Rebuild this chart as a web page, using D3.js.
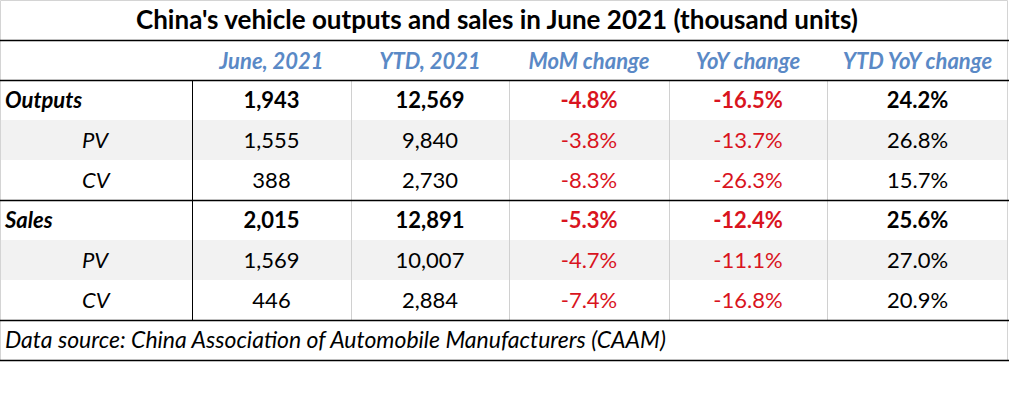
<!DOCTYPE html>
<html>
<head>
<meta charset="utf-8">
<script src="https://cdn.jsdelivr.net/npm/d3@7"></script>
<style>
  body { margin: 0; background: #fff; }
  text { font-family: Lato, "Open Sans", sans-serif; }
</style>
</head>
<body>
<div id="chart"></div>
<script>
(function () {

  // table data
  var title = "China's vehicle outputs and sales in June 2021 (thousand units)"
  var headers = ["", "June, 2021", "YTD, 2021", "MoM change", "YoY change", "YTD YoY change"]
  var rowLabels = ["Outputs", "PV", "CV", "Sales", "PV", "CV"]
  var boldRows = [true, false, false, true, false, false]
  var june = [1943, 1555, 388, 2015, 1569, 446]
  var ytd = [12569, 9840, 2730, 12891, 10007, 2884]
  var mom = [-4.8, -3.8, -8.3, -5.3, -4.7, -7.4]
  var yoy = [-16.5, -13.7, -26.3, -12.4, -11.1, -16.8]
  var ytdYoy = [24.2, 26.8, 15.7, 25.6, 27.0, 20.9]
  var source = "Data source: China Association of Automobile Manufacturers (CAAM)"

  var width = 1009, height = 404

  var svg = d3.select("#chart").append("svg")
    .attr("width", width)
    .attr("height", height)

  // column edges (uneven widths)
  var colEdges = [0, 192, 351, 509, 669, 827, 1008]
  var colX = d3.scaleOrdinal().domain(d3.range(6)).range(colEdges.slice(0, 6))
  var colW = function (i) { return colEdges[i + 1] - colEdges[i] }

  // rows: title, header, 6 data rows, footer
  var yScale = d3.scaleBand().domain(d3.range(9)).range([0, 360])
  var rh = yScale.bandwidth()
  var dataY = function (i) { return yScale(i + 2) }

  var fmt = d3.format(",")
  // plain hyphen for negatives, like the original
  var pct = function (v) { return v.toFixed(1) + "%" }

  // shaded sub rows
  svg.selectAll(".band")
    .data([1, 4])
    .enter().append("rect")
    .attr("class", "band")
    .attr("x", 1)
    .attr("y", function (d) { return dataY(d) })
    .attr("width", 1006)
    .attr("height", rh)
    .attr("fill", "#f2f2f2")

  // light outer border (top, left, right)
  svg.append("path")
    .attr("d", "M0.5,360V0.5H1007.5V360")
    .attr("fill", "none")
    .attr("stroke", "#d4d4d4")

  // gray column dividers
  svg.selectAll(".vline")
    .data([2, 3, 4, 5])
    .enter().append("line")
    .attr("class", "vline")
    .attr("x1", function (d) { return colX(d) + 0.5 })
    .attr("x2", function (d) { return colX(d) + 0.5 })
    .attr("y1", dataY(0))
    .attr("y2", dataY(6))
    .attr("stroke", "#d0d0d0")

  // black divider after label column
  svg.append("line")
    .attr("x1", colX(1) + 0.5).attr("x2", colX(1) + 0.5)
    .attr("y1", dataY(0)).attr("y2", dataY(6))
    .attr("stroke", "#000")

  // black horizontal rules
  svg.selectAll(".hline")
    .data([yScale(1), yScale(2), dataY(3), dataY(6), 360])
    .enter().append("line")
    .attr("class", "hline")
    .attr("x1", 0).attr("x2", width)
    .attr("y1", function (d) { return d + 0.5 })
    .attr("y2", function (d) { return d + 0.5 })
    .attr("stroke", "#000")
    .attr("stroke-width", 1.5)

  // title
  svg.append("text")
    .attr("x", 497)
    .attr("y", yScale(0) + 29)
    .attr("text-anchor", "middle")
    .attr("font-size", 26)
    .attr("font-weight", "bold")
    .attr("fill", "#000")
    .text(title)

  // headers
  svg.selectAll(".header")
    .data(headers)
    .enter().append("text")
    .attr("class", "header")
    .attr("x", function (d, i) { return colX(i) + colW(i) / 2 })
    .attr("y", yScale(1) + 29)
    .attr("text-anchor", "middle")
    .attr("font-size", 22)
    .attr("font-style", "italic")
    .attr("font-weight", "bold")
    .attr("fill", "#5a89c6")
    .text(function (d) { return d })

  // row labels
  svg.selectAll(".rowlabel")
    .data(rowLabels)
    .enter().append("text")
    .attr("class", "rowlabel")
    .attr("x", function (d, i) { return boldRows[i] ? 5 : 82 })
    .attr("y", function (d, i) { return dataY(i) + 28 })
    .attr("font-size", 22)
    .attr("font-style", "italic")
    .attr("font-weight", function (d, i) { return boldRows[i] ? "bold" : "normal" })
    .attr("fill", "#000")
    .text(function (d) { return d })

  // data cells
  var columns = [
    { vals: june, f: fmt, neg: false },
    { vals: ytd, f: fmt, neg: false },
    { vals: mom, f: pct, neg: true },
    { vals: yoy, f: pct, neg: true },
    { vals: ytdYoy, f: pct, neg: false }
  ]
  var cells = []
  columns.forEach(function (c, ci) {
    c.vals.forEach(function (v, ri) {
      cells.push({ col: ci + 1, row: ri, text: c.f(v), red: c.neg && v < 0 })
    })
  })

  svg.selectAll(".cell")
    .data(cells)
    .enter().append("text")
    .attr("class", "cell")
    .attr("x", function (d) { return colX(d.col) + colW(d.col) / 2 })
    .attr("y", function (d) { return dataY(d.row) + 28 })
    .attr("text-anchor", "middle")
    .attr("font-size", 22)
    .attr("font-weight", function (d) { return boldRows[d.row] ? "bold" : "normal" })
    .attr("fill", function (d) { return d.red ? "#d9141e" : "#000" })
    .text(function (d) { return d.text })

  // source footer
  svg.append("text")
    .attr("x", 5)
    .attr("y", yScale(8) + 28)
    .attr("font-size", 23)
    .attr("font-style", "italic")
    .attr("fill", "#000")
    .text(source)

})()
</script>
</body>
</html>
